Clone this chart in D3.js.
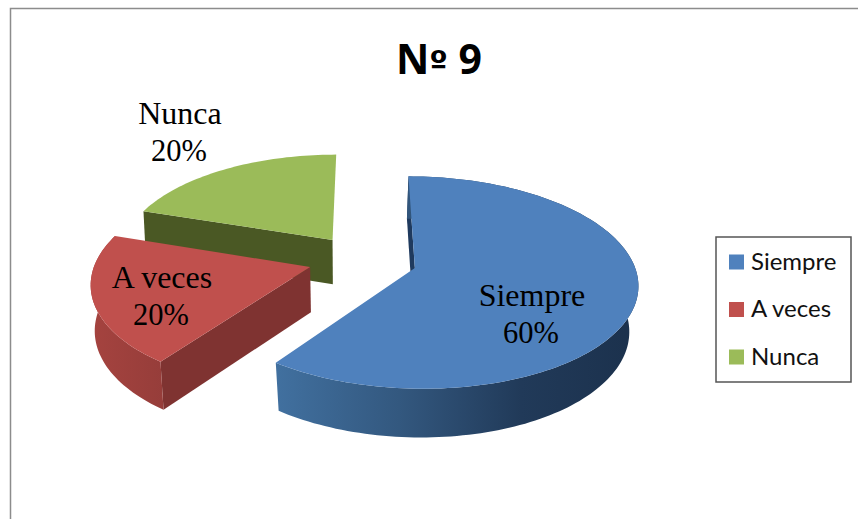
<!DOCTYPE html>
<html><head><meta charset="utf-8">
<script src="https://cdn.jsdelivr.net/npm/d3@7/dist/d3.min.js"></script>
<style>html,body{margin:0;padding:0;background:#fff}svg{display:block}</style>
</head><body><div id="c"></div>
<script>
const titleParts = ["N", "º", " 9"];
const categories = ["Siempre", "A veces", "Nunca"];
const values = [60, 20, 20];
const percentLabels = ["60%", "20%", "20%"];
const topColors = ["#4f81bd", "#c0504d", "#9bbb59"];

const W = 858, H = 519;
// projection constants (tilted pie with perspective)
const cx = 362, cy = 260, Ry = 102, k = 0.136, explodePx = 55, explodeY = 0.25, depth = 45;
const sliceRx = [218, 214, 214], sliceNudge = [[0, 0], [1, -1], [2, 0]], sliceShrink = [0.967, 0.985, 0.99];

const svg = d3.select("#c").append("svg").attr("width", W).attr("height", H);
const defs = svg.append("defs");
function grad(id, x1, x2, stops) {
  const g = defs.append("linearGradient").attr("id", id).attr("gradientUnits", "userSpaceOnUse")
    .attr("x1", x1).attr("x2", x2).attr("y1", 0).attr("y2", 0);
  stops.forEach(s => g.append("stop").attr("offset", s[0]).attr("stop-color", s[1]));
  return `url(#${id})`;
}
const outerFill = [
  grad("gb", 277, 625, [[0, "#41709f"], [0.35, "#33587f"], [0.7, "#213a59"], [1, "#1c324e"]]),
  grad("gr", 90, 165, [[0, "#a5433f"], [1, "#963d3a"]]),
  "#4a5a24"
];
const edgeFill = ["#1f3a5e", "#7f3331", "#4a5824"];

svg.append("path").attr("d", `M10.5,${H} V8.5 H${W}`).attr("fill", "none").attr("stroke", "#8c8c8c").attr("stroke-width", 1.5);

const pie = d3.pie().sort(null).startAngle(0).endAngle(2 * Math.PI);
const arcs = pie(values);

function project(i, a0, a, r, base) {
  const ox = Math.sin(a0) * explodePx, oy = -Math.cos(a0) * explodeY;
  const X = ox + Math.sin(a) * r * sliceRx[i], Y = oy - Math.cos(a) * r;
  const w = 1 - k * Y;
  let x = cx + X / w, y = cy + Ry * Y / w;
  if (base) { x = cx + (x - cx) * sliceShrink[i]; y += depth / Math.sqrt(w); }
  return [x + sliceNudge[i][0], y + sliceNudge[i][1]];
}
const line = d3.line();
function sweep(d) {
  const n = Math.ceil((d.endAngle - d.startAngle) * 40);
  return d3.range(n + 1).map(j => d.startAngle + (d.endAngle - d.startAngle) * j / n);
}

// paint far slices first
[2, 1, 0].forEach(i => {
  const d = arcs[i], mid = (d.startAngle + d.endAngle) / 2, g = svg.append("g");
  const P = (a, r, b) => project(i, mid, a, r, b);
  const as = sweep(d);
  // visible radial wall
  const a = d.startAngle;
  g.append("path").attr("d", line([P(a, 0, false), P(a, 1, false), P(a, 1, true), P(a, 0, true)]) + "Z")
    .attr("fill", edgeFill[i]);
  // outer wall
  if (i !== 2) {
    const top = as.map(t => P(t, 1, false)), bot = as.map(t => P(t, 1, true)).reverse();
    g.append("path").attr("d", line(top.concat(bot)) + "Z").attr("fill", outerFill[i]);
  }
  // top face
  g.append("path").attr("d", line([P(0, 0, false)].concat(as.map(t => P(t, 1, false)))) + "Z")
    .attr("fill", topColors[i]);
});

// data labels
const labelCenters = [[532, 306], [162, 288], [180, 124]];
const lab = svg.append("g").attr("font-family", "'Liberation Serif', serif")
  .attr("fill", "#000").attr("text-anchor", "middle");
categories.forEach((c, i) => {
  lab.append("text").attr("x", labelCenters[i][0]).attr("y", labelCenters[i][1]).attr("font-size", 32).text(c);
  lab.append("text").attr("x", labelCenters[i][0] - 1).attr("y", labelCenters[i][1] + 37).attr("font-size", 30.5).text(percentLabels[i]);
});

const titleText = svg.append("text").attr("x", 439).attr("y", 74).attr("text-anchor", "middle")
  .attr("font-family", "'Open Sans', sans-serif").attr("font-weight", 700).attr("font-size", 41).attr("fill", "#000");
titleParts.forEach((t, i) => {
  titleText.append("tspan").style("white-space", "pre")
    .attr("font-family", i === 1 ? "'DejaVu Sans', sans-serif" : null)
    .attr("font-size", i === 1 ? 33 : null).text(t);
});

// legend
svg.append("rect").attr("x", 716).attr("y", 237).attr("width", 135).attr("height", 145)
  .attr("fill", "#fff").attr("stroke", "#555").attr("stroke-width", 1.5);
const ly = d3.scalePoint().domain(categories).range([262, 357]);
const lg = svg.append("g").selectAll("g").data(categories).join("g")
  .attr("transform", c => `translate(729,${ly(c)})`);
lg.append("rect").attr("y", -7.5).attr("width", 15).attr("height", 15).attr("fill", (c, i) => topColors[i]);
lg.append("text").attr("x", 22).attr("y", 7.5).attr("font-family", "Lato, sans-serif").attr("font-size", 24)
  .attr("fill", "#111").text(c => c);
</script></body></html>
